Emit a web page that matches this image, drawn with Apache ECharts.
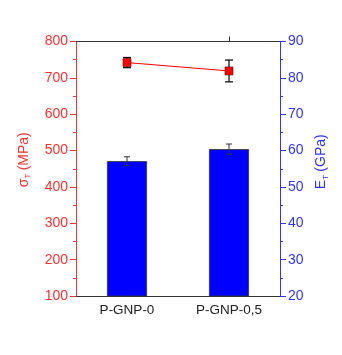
<!DOCTYPE html>
<html><head><meta charset="utf-8">
<script src="https://cdn.jsdelivr.net/npm/echarts@6/dist/echarts.min.js"></script>
<style>html,body{margin:0;padding:0;background:#fff}#c{width:342px;height:355px}</style>
</head><body><div id="c"></div>
<script>
const categories = ['P-GNP-0', 'P-GNP-0,5'];
const strengthMPa = [742, 719];
const strengthErr = [14, 30];
const modulusGPa = [57.1, 60.4];
const modulusErr = [1.2, 1.4];

const RED = '#ff3333', BLUE = '#3333ff', FONT = 'Liberation Sans, Arial, sans-serif';

function errRender(capW, color, lw) {
  return function (params, api) {
    const x = api.value(0);
    const lo = api.coord([x, api.value(1)]);
    const hi = api.coord([x, api.value(2)]);
    const st = { stroke: color, lineWidth: lw };
    return { type: 'group', children: [
      { type: 'line', shape: { x1: hi[0], y1: hi[1], x2: lo[0], y2: lo[1] }, style: st },
      { type: 'line', shape: { x1: hi[0] - capW / 2, y1: hi[1], x2: hi[0] + capW / 2, y2: hi[1] }, style: st },
      { type: 'line', shape: { x1: lo[0] - capW / 2, y1: lo[1], x2: lo[0] + capW / 2, y2: lo[1] }, style: st }
    ]};
  };
}

const chart = echarts.init(document.getElementById('c'));
chart.setOption({
  animation: false,
  backgroundColor: '#fff',
  grid: { left: 76, right: 62, top: 41.5, bottom: 59 },
  xAxis: [{
    type: 'category', data: categories, position: 'bottom',
    axisLine: { lineStyle: { color: '#333', width: 1 } },
    axisTick: { show: false },
    axisLabel: { color: '#222', fontSize: 13.5, fontFamily: FONT, margin: 7 }
  }, {
    type: 'category', data: categories, position: 'top',
    axisLine: { lineStyle: { color: '#333', width: 1 } },
    axisTick: { show: true, alignWithLabel: true, length: 5, interval: function (i) { return i === 1; }, lineStyle: { color: '#333' } },
    axisLabel: { show: false }
  }],
  yAxis: [{
    type: 'value', position: 'left', min: 100, max: 800, interval: 100,
    name: '{s|σ}{t|T} {s|(MPa)}', nameLocation: 'middle', nameGap: 44,
    nameTextStyle: { color: RED, fontFamily: FONT, padding: [0, 0, 0, 18],
      rich: { s: { fontSize: 14, color: RED, fontFamily: FONT }, t: { fontSize: 8, color: RED, fontFamily: FONT, padding: [8, 0, 0, 0] } } },
    axisLine: { show: true, lineStyle: { color: RED, width: 1 } },
    axisTick: { show: true, length: 6, lineStyle: { color: RED } },
    minorTick: { show: true, splitNumber: 2, length: 3, lineStyle: { color: RED } },
    splitLine: { show: false },
    axisLabel: { color: RED, fontSize: 14, fontFamily: FONT, margin: 8 }
  }, {
    type: 'value', position: 'right', min: 20, max: 90, interval: 10,
    name: '{s|E}{t|T} {s|(GPa)}', nameLocation: 'middle', nameGap: 33,
    nameTextStyle: { color: BLUE, fontFamily: FONT, padding: [0, 0, 0, 14],
      rich: { s: { fontSize: 14, color: BLUE, fontFamily: FONT }, t: { fontSize: 8, color: BLUE, fontFamily: FONT, padding: [8, 0, 0, 0] } } },
    axisLine: { show: true, lineStyle: { color: BLUE, width: 1 } },
    axisTick: { show: true, length: 6, lineStyle: { color: BLUE } },
    minorTick: { show: true, splitNumber: 2, length: 3, lineStyle: { color: BLUE } },
    splitLine: { show: false },
    axisLabel: { color: BLUE, fontSize: 14, fontFamily: FONT, margin: 8 }
  }],
  series: [{
    type: 'bar', xAxisIndex: 0, yAxisIndex: 1, data: modulusGPa, barWidth: 40,
    itemStyle: { color: '#0000ff', borderColor: '#333', borderWidth: 0.8 }, z: 2
  }, {
    type: 'custom', xAxisIndex: 0, yAxisIndex: 1,
    data: modulusGPa.map((v, i) => [i, v - modulusErr[i], v + modulusErr[i]]),
    renderItem: errRender(6, '#333', 1), z: 3
  }, {
    type: 'line', xAxisIndex: 0, yAxisIndex: 0, data: strengthMPa,
    symbol: 'rect', symbolSize: 8,
    lineStyle: { color: '#ff0000', width: 1 },
    itemStyle: { color: '#ff0000', borderColor: '#600', borderWidth: 0.6 }, z: 5
  }, {
    type: 'custom', xAxisIndex: 0, yAxisIndex: 0,
    data: strengthMPa.map((v, i) => [i, v - strengthErr[i], v + strengthErr[i]]),
    renderItem: errRender(8, '#000', 1.2), z: 4
  }]
});
</script></body></html>
